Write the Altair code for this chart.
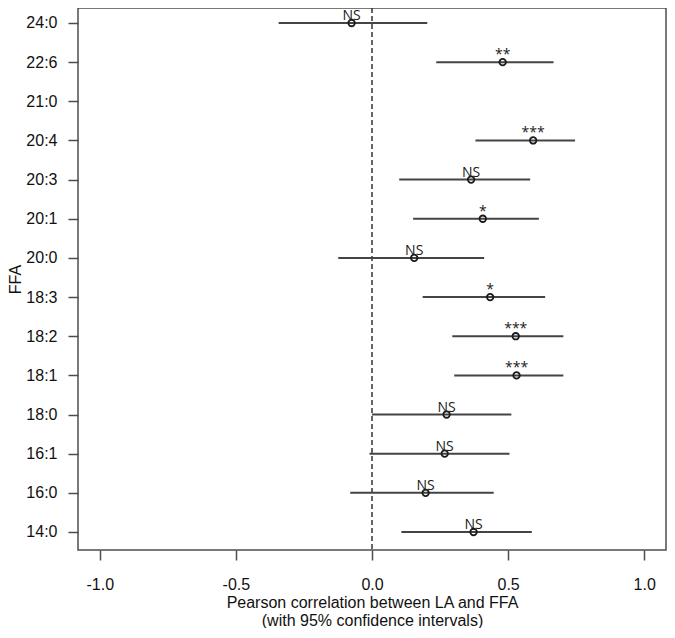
import altair as alt
import pandas as pd

# ---- data ----
ffa = ["24:0", "22:6", "21:0", "20:4", "20:3", "20:1", "20:0",
       "18:3", "18:2", "18:1", "18:0", "16:1", "16:0", "14:0"]
r_val = [-0.075, 0.480, None, 0.592, 0.364, 0.407, 0.155,
         0.434, 0.528, 0.531, 0.274, 0.267, 0.197, 0.373]
ci_lo = [-0.343, 0.236, None, 0.380, 0.100, 0.151, -0.124,
         0.186, 0.295, 0.302, 0.000, -0.009, -0.080, 0.108]
ci_hi = [0.203, 0.667, None, 0.746, 0.581, 0.613, 0.412,
         0.636, 0.703, 0.703, 0.512, 0.505, 0.447, 0.587]
sig = ["NS", "**", "", "***", "NS", "*", "NS",
       "*", "***", "***", "NS", "NS", "NS", "NS"]
x_ticks = [-1.0, -0.5, 0.0, 0.5, 1.0]

df = pd.DataFrame({
    "idx": list(range(len(ffa))),
    "ffa": ffa,
    "r": r_val,
    "lo": ci_lo,
    "hi": ci_hi,
    "sig": sig,
}).dropna(subset=["r"])

label_array = "[" + ",".join("'" + f + "'" for f in ffa) + "]"

x_scale = alt.Scale(domain=[-1.08, 1.08], nice=False, zero=False)
y_scale = alt.Scale(domain=[-0.383, 13.46], nice=False, zero=False, reverse=True)

x_axis = alt.Axis(
    values=x_ticks,
    labelExpr="replace(format(datum.value, '.1f'), '\u2212', '-')",
    title=["Pearson correlation between LA and FFA", "(with 95% confidence intervals)"],
    titleLineHeight=18,
    labelPadding=16,
    titlePadding=2,
)
y_axis = alt.Axis(
    values=list(range(len(ffa))),
    labelExpr=label_array + "[datum.value]",
    title="FFA",
    labelPadding=11,
    titlePadding=2,
)

base = alt.Chart(df)

zero_line = alt.Chart(pd.DataFrame({"z": [0.0]})).mark_rule(
    color="#333333", strokeWidth=1.5, strokeDash=[5, 3]
).encode(x=alt.X("z:Q", scale=x_scale, axis=x_axis))

bars = base.mark_rule(color="#444444", strokeWidth=2).encode(
    x=alt.X("lo:Q", scale=x_scale, axis=x_axis),
    x2="hi:Q",
    y=alt.Y("idx:Q", scale=y_scale, axis=y_axis),
)

points = base.mark_point(
    shape="circle", filled=False, size=42, color="#1a1a1a", strokeWidth=1.8, opacity=1
).encode(
    x=alt.X("r:Q", scale=x_scale),
    y=alt.Y("idx:Q", scale=y_scale),
)

labels = base.mark_text(
    font="Open Sans", fontSize=14, color="#1a1a1a", baseline="alphabetic", dy=-3, align="center"
).encode(
    x=alt.X("r:Q", scale=x_scale),
    y=alt.Y("idx:Q", scale=y_scale),
    text="sig:N",
)

chart = alt.layer(zero_line, bars, points, labels).properties(
    width=588,
    height=542,
    autosize=alt.AutoSizeParams(type="none"),
    padding={"left": 70, "top": 0, "right": 1, "bottom": 78},
).configure_view(
    stroke="#4d4d4d", strokeWidth=1.5
).configure_axis(
    domain=False,
    grid=False,
    ticks=True,
    tickColor="#4d4d4d",
    tickWidth=1.5,
    tickSize=10,
    labelFont="Liberation Sans",
    labelFontSize=16,
    labelColor="#111111",
    titleFont="Liberation Sans",
    titleFontSize=16,
    titleFontWeight="normal",
    titleColor="#111111",
)

chart.save("out.html", embed_options={"renderer": "svg", "actions": False})
